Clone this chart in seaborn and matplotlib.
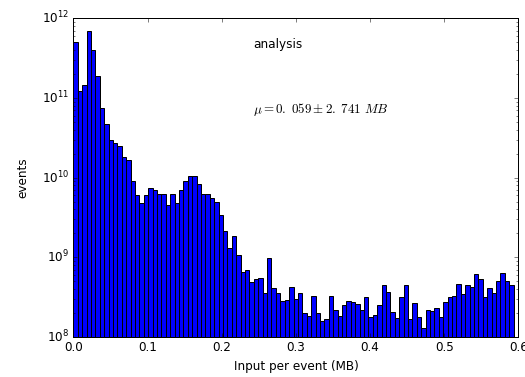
import numpy as np
import pandas as pd
import matplotlib
matplotlib.use("Agg")
import matplotlib.pyplot as plt
import seaborn as sns

# ---- data ----
x_min = 0.0
x_max = 0.5935
n_bins = 100
counts = [
    5.1e11, 1.24e11, 1.47e11, 7.0e11, 4.0e11, 1.9e11, 7.6e10, 4.7e10, 3.0e10, 2.75e10,
    2.5e10, 1.8e10, 1.65e10, 9.2e9, 6.0e9, 4.8e9, 6.0e9, 7.5e9, 7.0e9, 6.2e9,
    6.2e9, 4.5e9, 6.2e9, 4.8e9, 7.0e9, 9.2e9, 1.05e10, 1.05e10, 8.3e9, 6.2e9,
    6.2e9, 5.6e9, 4.9e9, 3.4e9, 2.15e9, 1.3e9, 1.87e9, 1.07e9, 6.5e8, 6.9e8,
    4.9e8, 5.3e8, 5.5e8, 3.6e8, 9.7e8, 4.1e8, 3.6e8, 2.8e8, 2.95e8, 4.3e8,
    3.0e8, 3.6e8, 2.0e8, 1.85e8, 3.25e8, 2.0e8, 1.58e8, 1.7e8, 3.3e8, 2.2e8,
    1.85e8, 2.5e8, 2.85e8, 2.75e8, 2.6e8, 2.2e8, 3.2e8, 1.8e8, 1.9e8, 2.5e8,
    4.55e8, 3.7e8, 2.05e8, 1.74e8, 3.15e8, 4.5e8, 1.68e8, 2.65e8, 1.78e8, 1.28e8,
    2.2e8, 2.15e8, 2.33e8, 1.78e8, 2.75e8, 3.15e8, 3.25e8, 4.65e8, 3.45e8, 4.5e8,
    4.3e8, 6.2e8, 5.3e8, 3.15e8, 4.1e8, 3.6e8, 5.1e8, 6.3e8, 5.1e8, 4.5e8,
]
x_ticks = [0.0, 0.1, 0.2, 0.3, 0.4, 0.5, 0.6]
title_text = "analysis"
stat_text = r"$\mu=0.\;059\pm2.\;741\ MB$"
x_label = "Input per event (MB)"
y_label = "events"

edges = np.linspace(x_min, x_max, n_bins + 1)
centers = (edges[:-1] + edges[1:]) / 2
df = pd.DataFrame({"x": centers, "w": counts})

plt.style.use("classic")
plt.rcParams["font.family"] = ["DejaVu Sans"]
plt.rcParams["mathtext.fontset"] = "cm"

fig = plt.figure(figsize=(525 / 72, 377 / 72), dpi=72, facecolor="white")
ax = fig.add_axes([0.1397, 0.106, 0.8479, 0.845])

sns.histplot(data=df, x="x", weights="w", bins=n_bins, binrange=(x_min, x_max),
             ax=ax, color="#0000ff", edgecolor="black", linewidth=1.0, alpha=1.0)
ax.set_yscale("log")
ax.set_xlim(0, 0.6)
ax.set_ylim(1e8, 1e12)
ax.set_xticks(x_ticks)
ax.set_xlabel(x_label, fontsize=12, labelpad=6)
ax.set_ylabel(y_label, fontsize=12, labelpad=13)

ax.text(0.404, 0.917, title_text, transform=ax.transAxes, fontsize=12,
        ha="left", va="center")
ax.text(0.404, 0.714, stat_text, transform=ax.transAxes, fontsize=13,
        ha="left", va="center")

fig.savefig("out.png", dpi=72, facecolor="white")
